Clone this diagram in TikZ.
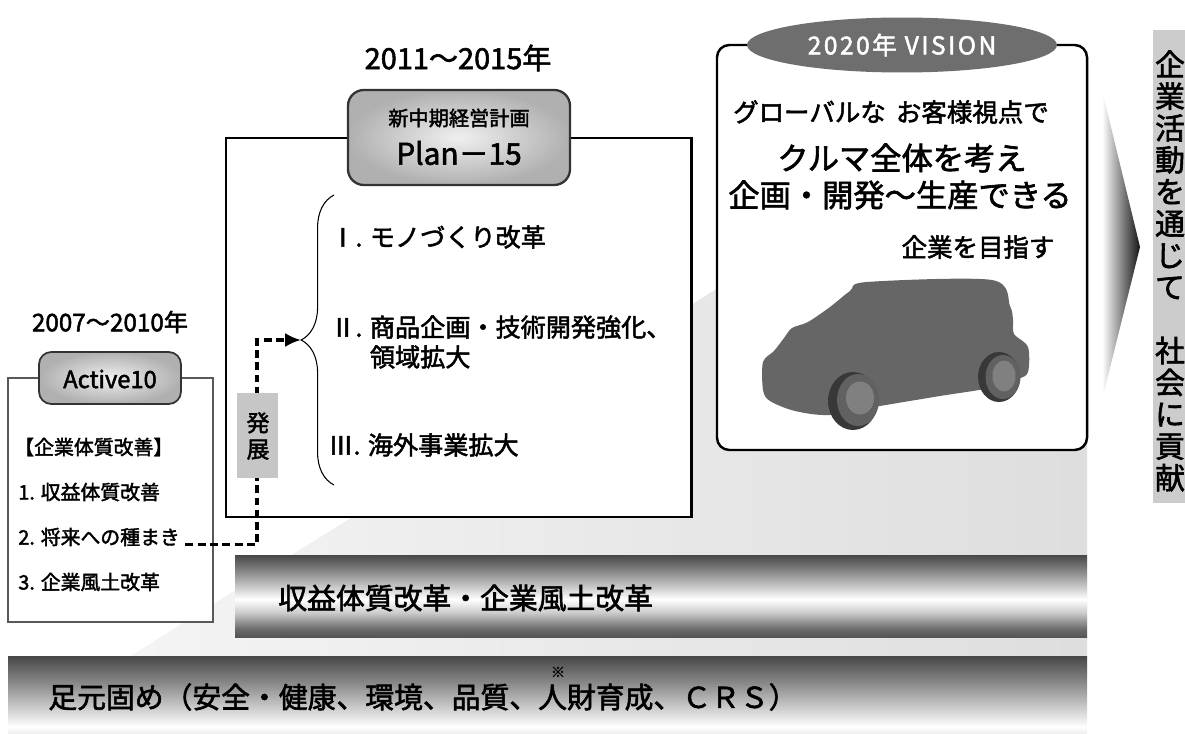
\documentclass[tikz,border=0pt]{standalone}
\usepackage{fontspec}
\setmainfont{Noto Sans CJK JP}[FakeBold=2]
\usetikzlibrary{arrows.meta,decorations.pathreplacing,shapes.geometric}

% metal look of the two base bars (path box sits between 25bp and 75bp)
\pgfdeclareverticalshading{metal}{100bp}{color(0bp)=(black!67); color(25bp)=(black!67); color(30bp)=(black!58); color(40bp)=(black!20); color(48bp)=(white); color(65bp)=(black!47); color(75bp)=(black!72); color(100bp)=(black!72)}

\tikzset{
  yeartxt/.style={font=\fontsize{16.5}{18}\selectfont},
  lab/.style={inner color=gray!12, outer color=gray!62, draw=black!80, line width=1pt, rounded corners=7pt},
  acttxt/.style={font=\fontsize{11.3}{13}\selectfont, anchor=west},
  plantxt/.style={font=\fontsize{14.3}{17}\selectfont, anchor=west, align=left},
  bartxt/.style={font=\fontsize{16.4}{18}\selectfont, anchor=west},
  vis1/.style={font=\fontsize{14.5}{16}\selectfont},
  vis2/.style={font=\fontsize{17.8}{20}\selectfont},
  visel/.style={ellipse, fill=black!57, text=white, minimum width=6.2cm, minimum height=1.1cm,
    font=\fontsize{14}{15}\selectfont\addfontfeature{LetterSpace=10}},
  devline/.style={line width=2pt, dash pattern=on 4.5pt off 2.5pt, -{Latex[length=9pt,width=8pt]}},
  car/.style={fill=black!60},
}

\begin{document}
\begin{tikzpicture}[x=0.02cm,y=-0.02cm, every node/.style={inner sep=0pt}]
\useasboundingbox (0,0) rectangle (1185,733);

% rising ground behind the plans
\shade[left color=gray!8,right color=gray!26] (100,675) -- (1087,57) -- (1087,675) -- cycle;

% base bars
\shade[shading=metal] (235,555) rectangle (1087,637);
\node[bartxt] (B1) at (278,598) {収益体質改革・企業風土改革};
\shade[shading=metal] (8,656) rectangle (1087,787);
\node[bartxt] (B2) at (48,697) {足元固め（安全・健康、環境、品質、人財育成、ＣＲＳ）};
\node[font=\fontsize{8}{8}\selectfont] (B2n) at (558,672) {※};

% Active10
\node[yeartxt, font=\fontsize{13.8}{15}\selectfont] (A0) at (110,322) {2007〜2010年};
\draw[draw=black!65, line width=0.8pt, fill=white] (8,378) rectangle (213,622);
\shadedraw[lab] (39,352) rectangle (181,404);
\node[font=\fontsize{13.5}{14}\selectfont] (A1) at (110,379) {Active10};
\node[acttxt] (A2) at (14,447) {【企業体質改善】};
\node[acttxt] (A3) at (18,492) {1. 収益体質改善};
\node[acttxt] (A4) at (18,537) {2. 将来への種まき};
\node[acttxt] (A5) at (18,582) {3. 企業風土改革};

% Plan-15
\node[yeartxt] (P0) at (458,58) {2011〜2015年};
\draw[line width=1.7pt, fill=white] (226,138) rectangle (691,517);
\shadedraw[lab, line width=1.3pt, rounded corners=9pt] (348,90) rectangle (570,185);
\node[font=\fontsize{11.5}{12}\selectfont] (P1) at (459,118) {新中期経営計画};
\node[font=\fontsize{17}{18}\selectfont] (P2) at (459,153) {Plan－15};

\draw[decorate, decoration={brace, amplitude=18.7pt, aspect=0.5}, line width=0.6pt] (334,485) -- (334,195);
\coordinate (tip) at (301,340);
\node[plantxt] (P3) at (330,237) {Ⅰ. モノづくり改革};
\node[plantxt] (P4) at (330,342) {Ⅱ. 商品企画・技術開発強化、\\\phantom{Ⅱ. }領域拡大};
\node[plantxt] (P5) at (328,445) {Ⅲ. 海外事業拡大};

% Active10 -> Plan-15
\coordinate (bend) at (257,340);
\draw[devline] ([xshift=3pt]A4.base east) -| (bend) -- (tip);
\fill[gray!45] (237,393) rectangle (278,478);
\node[font=\fontsize{13}{15}\selectfont, align=center] (H0) at (258,436) {発\\展};

% 2020 vision
\draw[line width=1.4pt, rounded corners=7pt, fill=white] (717,45) rectangle (1087,450);
\node[visel] (V0) at (902,45) {2020年 VISION};
\node[vis1] (V1) at (891,112) {グローバルな\hspace{0.4em}お客様視点で};
\node[vis2] (V2) at (902,158) {クルマ全体を考え};
\node[vis2] (V3) at (900,195) {企画・開発〜生産できる};
\node[vis1] (V4) at (978,247) {企業を目指す};

% car
\fill[car] plot[smooth cycle, tension=0.5] coordinates {(867,282) (992,280) (1010,306) (1013,320) (1014,334) (1028,347) (1028,372) (1018,379) (990,388) (940,396) (880,406) (830,415) (795,411) (770,401) (763,390) (763,362) (774,351) (784,338) (792,328) (808,322) (830,307) (850,291)};
\fill[black!78] (853,401) ellipse [x radius=0.5cm, y radius=0.58cm];
\fill[black!62] (858,400) ellipse [x radius=0.42cm, y radius=0.52cm];
\fill[black!50] (860,398) ellipse [x radius=0.28cm, y radius=0.33cm];
\fill[black!78] (999,377) ellipse [x radius=0.42cm, y radius=0.5cm];
\fill[black!62] (1003,377) ellipse [x radius=0.35cm, y radius=0.44cm];
\fill[black!50] (1004,376) ellipse [x radius=0.23cm, y radius=0.31cm];

% contribution to society
\shade[left color=white, right color=black!92] (1102,90) -- (1140,247) -- (1102,400) -- cycle;
\fill[gray!40] (1153,30) rectangle (1190,503);
\node[font=\fontsize{17}{18.1}\selectfont, align=center] (G0) at (1170,271) {企\\業\\活\\動\\を\\通\\じ\\て\\\phantom{社}\\社\\会\\に\\貢\\献};
\end{tikzpicture}
\end{document}
